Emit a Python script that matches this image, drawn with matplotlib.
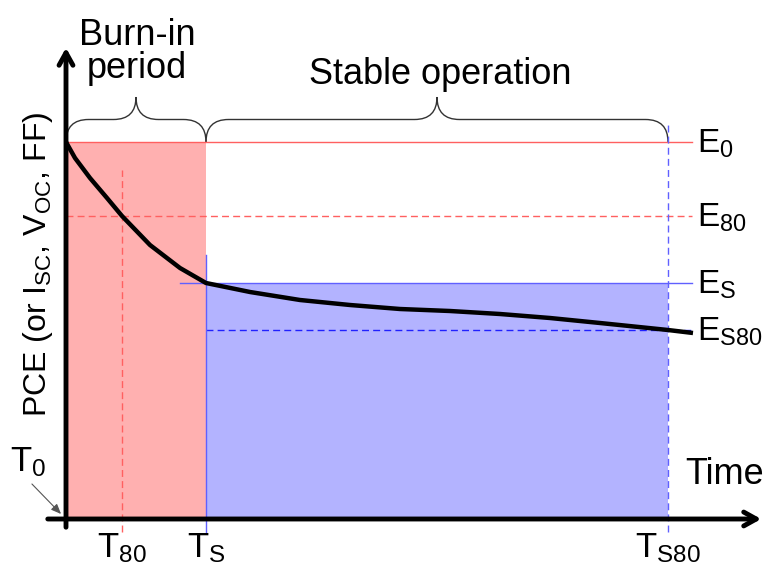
import numpy as np
import matplotlib.pyplot as plt
from matplotlib.path import Path
from matplotlib.patches import PathPatch

plt.rcParams['font.family'] = ['Liberation Sans', 'DejaVu Sans']
plt.rcParams['mathtext.fontset'] = 'custom'
plt.rcParams['mathtext.rm'] = 'Liberation Sans'
plt.rcParams['mathtext.it'] = 'Liberation Sans'

# schematic levels (arbitrary units)
t_marks = [0, 56, 140, 602]          # T0, T80, TS, TS80
t_labels = ['T$_0$', 'T$_{80}$', 'T$_\\mathrm{S}$', 'T$_{\\mathrm{S80}}$']
e_levels = [377, 303, 236, 189]     # E0, E80, ES, ES80
e_labels = ['E$_0$', 'E$_{80}$', 'E$_\\mathrm{S}$', 'E$_{\\mathrm{S80}}$']

# degradation curve
curve_t = [0, 9, 24, 41, 56, 84, 114, 140, 184, 234, 284, 334, 384, 434, 484, 534, 602, 627]
curve_e = [377, 361, 341, 321, 303, 274, 251, 236, 227, 219, 214, 210, 208, 205, 201, 196, 189, 186]

fig = plt.figure(figsize=(7.64, 5.66), dpi=100)
ax = fig.add_axes([0, 0, 1, 1])
ax.set_xlim(-66, 698)
ax.set_ylim(-47, 519)
ax.axis('off')

T0, T80, TS, TS80 = t_marks
E0, E80, ES, ES80 = e_levels

# shaded regions
ax.fill_between([T0, TS], 0, E0, color='#ffb0b0', lw=0)
ax.fill_between([TS, TS80], 0, ES, color='#b3b3ff', lw=0)

# horizontal level lines
ax.plot([T0, 626], [E0, E0], color='#ff6060', lw=1)
ax.plot([T0, 626], [E80, E80], color='#ff6060', lw=1, ls=(0, (5, 3)))
ax.plot([114, 626], [ES, ES], color='#6060ff', lw=1)
ax.plot([TS, 626], [ES80, ES80], color='#2020ff', lw=1, ls=(0, (5, 3)))

# vertical time markers
ax.plot([T80, T80], [-13, 349], color='#ff6060', lw=1, ls=(0, (5, 3)))
ax.plot([TS, TS], [-13, 264], color='#6060ff', lw=1)
ax.plot([TS80, TS80], [-13, 394], color='#6060ff', lw=1, ls=(0, (5, 3)))

# curve
ax.plot(curve_t, curve_e, color='black', lw=3.2, solid_capstyle='butt')

# axes with arrows
ax.annotate('', xy=(698, 0), xytext=(-21, 0),
            arrowprops=dict(arrowstyle='->,head_length=0.9,head_width=0.5', lw=3.5, color='black'))
ax.annotate('', xy=(0, 474), xytext=(0, -11),
            arrowprops=dict(arrowstyle='->,head_length=0.9,head_width=0.5', lw=3.5, color='black'))


# curly brace made of quadratic segments
def brace(x0, x1, y0, h):
    xm = (x0 + x1) / 2
    r = h / 2
    verts = [(x0, y0), (x0, y0 + r), (x0 + r, y0 + r),
             (xm - r, y0 + r),
             (xm, y0 + r), (xm, y0 + h),
             (xm, y0 + r), (xm + r, y0 + r),
             (x1 - r, y0 + r),
             (x1, y0 + r), (x1, y0)]
    codes = [Path.MOVETO, Path.CURVE3, Path.CURVE3,
             Path.LINETO,
             Path.CURVE3, Path.CURVE3,
             Path.CURVE3, Path.CURVE3,
             Path.LINETO,
             Path.CURVE3, Path.CURVE3]
    ax.add_patch(PathPatch(Path(verts, codes), fill=False, lw=1, ec='#333333'))


brace(T0, TS, E0, 45)
brace(TS, TS80, E0, 45)

ax.text(71, 467, 'Burn-in\nperiod', ha='center', va='center', fontsize=26, linespacing=0.95)
ax.text(374, 444, 'Stable operation', ha='center', va='center', fontsize=26)

# level labels
for e, lab in zip(e_levels, e_labels):
    ax.text(631, e - 11, lab, ha='left', va='baseline', fontsize=24)

# time labels
for t, lab in zip(t_marks[1:], t_labels[1:]):
    ax.text(t, -38, lab, ha='center', va='baseline', fontsize=25)
ax.text(-38, 57, t_labels[0], ha='center', va='center', fontsize=25)
ax.annotate('', xy=(-3, 3), xytext=(-36, 37),
            arrowprops=dict(arrowstyle='-|>,head_length=0.6,head_width=0.25', lw=0.8, color='#555555'))
ax.text(698, 44, 'Time', ha='right', va='center', fontsize=26)

ax.text(-28, 255, 'PCE (or I$_{\\mathrm{SC}}$, V$_{\\mathrm{OC}}$, FF)', rotation=90,
        ha='center', va='center', fontsize=23)

fig.savefig('out.png', dpi=100)
